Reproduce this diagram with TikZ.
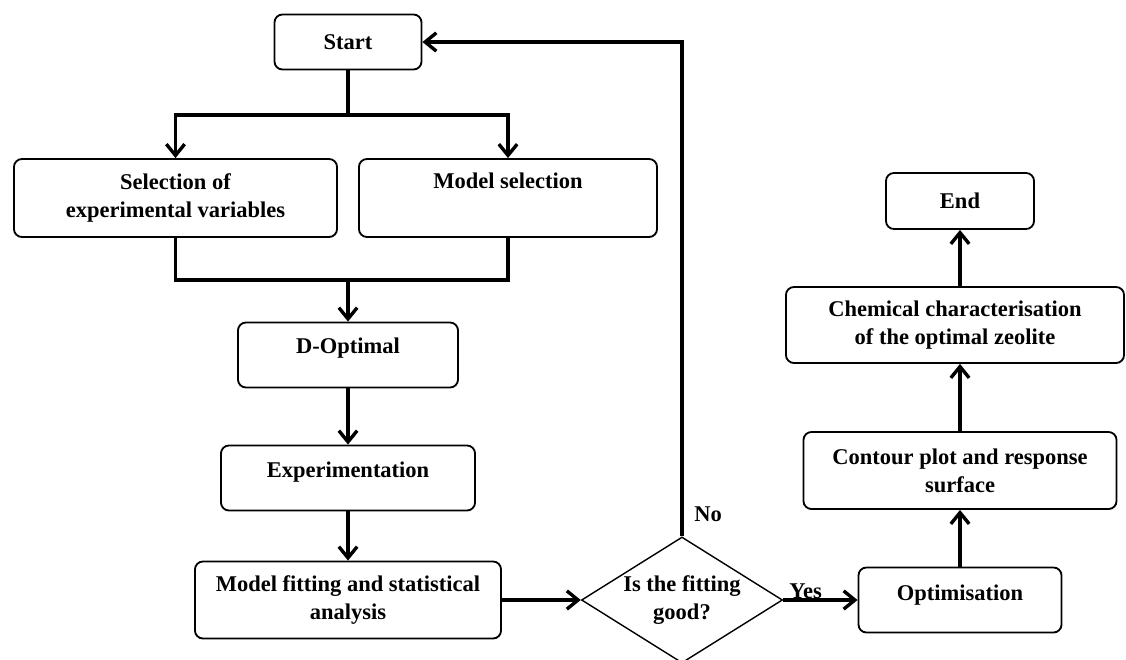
\documentclass[tikz,border=0pt]{standalone}
\usepackage{fontspec}
\setmainfont{Liberation Serif}
\usetikzlibrary{arrows.meta, shapes.geometric, positioning}
\tikzset{>={Straight Barb[length=8pt,width=13pt]}}
\tikzset{
  box/.style={draw, rounded corners=0.2cm, line width=1.3pt, align=center,
    inner sep=0pt, font=\bfseries\fontsize{16}{20}\selectfont},
  decision/.style={draw, diamond, line width=1pt, align=center, inner sep=0pt,
    shape aspect=1.6, minimum width=5.025cm, minimum height=3.15cm,
    font=\bfseries\fontsize{16}{20}\selectfont},
  flow/.style={line width=2.4pt},
  answer/.style={font=\bfseries\fontsize{16}{20}\selectfont}
}

\begin{document}
\begin{tikzpicture}[x=0.025cm, y=-0.025cm]
    \useasboundingbox (0,0) rectangle (1126,659);
    % left column
    \node[box, minimum width=3.675cm, minimum height=1.375cm] (start) at (348,42) {Start};
    \node[box, minimum width=8.075cm, minimum height=1.95cm] (sel) at (175.5,198) {Selection of\\experimental variables};
    \node[box, minimum width=7.45cm, minimum height=1.95cm, text depth=0.85cm] (msel) at (508,198) {Model selection};
    \node[box, minimum width=5.5cm, minimum height=1.625cm, text depth=0.45cm] (dopt) at (348,355) {D-Optimal};
    \node[box, minimum width=6.35cm, minimum height=1.625cm, text depth=0.4cm] (expt) at (348,478) {Experimentation};
    \node[box, minimum width=7.65cm, minimum height=1.925cm] (fit) at (348,600) {Model fitting and statistical\\analysis};
    \node[decision] (dia) at (682,600) {Is the fitting\\good?};
    % right column
    \node[box, minimum width=5.075cm, minimum height=1.625cm, text depth=0.35cm] (opt) at (960,600) {Optimisation};
    \node[box, minimum width=7.825cm, minimum height=1.925cm] (cont) at (960,470.5) {Contour plot and response\\surface};
    \node[box, minimum width=8.45cm, minimum height=1.9cm] (chem) at (955,325) {Chemical characterisation\\of the optimal zeolite};
    \node[box, minimum width=3.7cm, minimum height=1.4cm] (end) at (960,201) {End};

    \coordinate (split) at (348,115);
    \coordinate (merge) at (348,280);
    \draw[flow] (start.south) -- (split);
    \draw[flow,->] (split) -| (sel.north);
    \draw[flow,->] (split) -| (msel.north);
    \draw[flow] (sel.south) |- (merge) -| (msel.south);
    \draw[flow,->] (merge) -- (dopt.north);
    \draw[flow,->] (dopt) -- (expt);
    \draw[flow,->] (expt) -- (fit);
    \draw[flow,->] (fit) -- (dia);
    \draw[flow,->] (dia) -- node[answer, pos=0.3, above, inner sep=0pt]{Yes} (opt);
    \draw[flow,->] (dia.north) node[answer, above right=0.2cm and 0.15cm]{No} |- (start.east);
    \draw[flow,->] (opt) -- (cont);
    \draw[flow,->] (cont.north) -- (cont.north |- chem.south);
    \draw[flow,->] (end.south |- chem.north) -- (end.south);
\end{tikzpicture}
\end{document}
